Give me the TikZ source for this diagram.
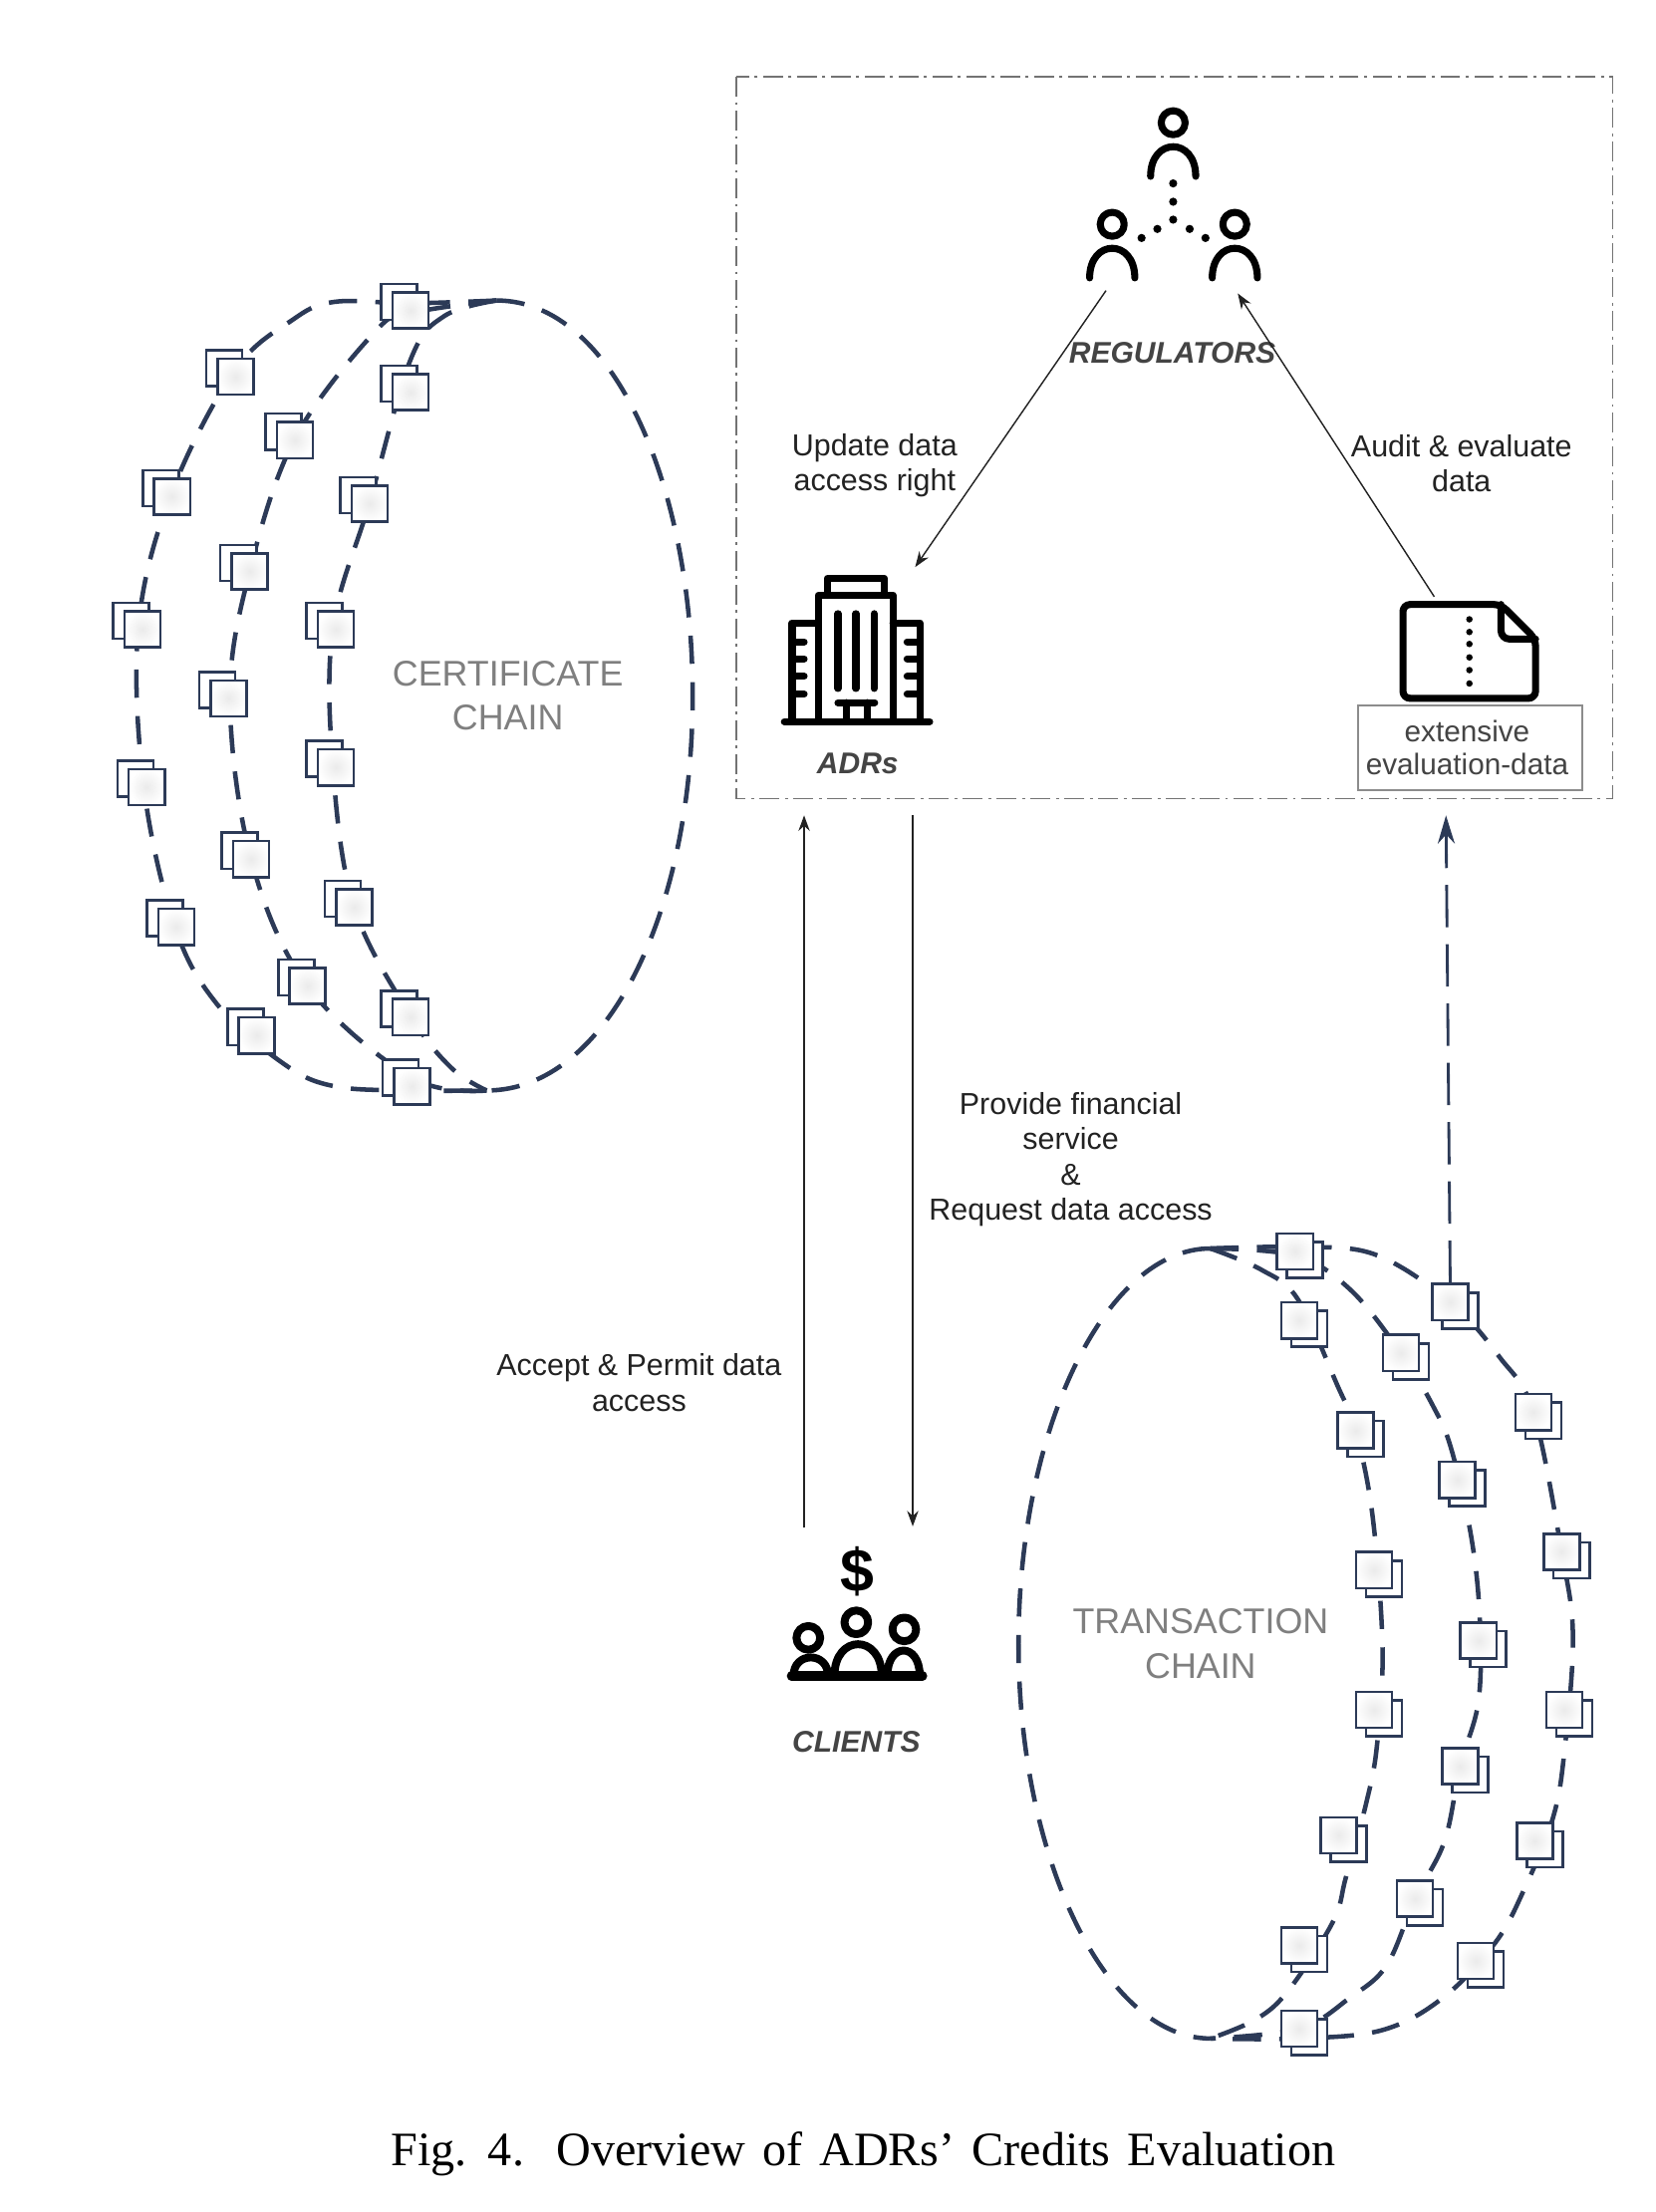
\documentclass[tikz,border=0pt]{standalone}
\usepackage{fontspec}
\setmainfont{Liberation Sans}
\newfontfamily\capfont{Liberation Serif}
\usetikzlibrary{arrows.meta}
\definecolor{navy}{HTML}{2C3A57}
\definecolor{ink}{HTML}{222222}
\definecolor{darklab}{HTML}{444444}
\definecolor{chainlab}{HTML}{7F7F7F}
\tikzset{
  chainline/.style={navy,line width=3.2pt,dash pattern=on 20pt off 13pt},
  backbox/.style={draw=navy,line width=1.8pt,fill=white,minimum width=25.5pt,minimum height=25.5pt,inner sep=0pt},
  frontbox/.style={draw=navy,line width=1.8pt,minimum width=25.5pt,minimum height=25.5pt,inner sep=0pt,shading=radial,inner color=black!8,outer color=white},
  flow/.style={ink,line width=1pt,-{Stealth[length=11pt,width=8pt]}},
  uplink/.style={navy,line width=2pt,dash pattern=on 30pt off 12pt,-{Stealth[length=20pt,width=12pt]}},
  lab/.style={ink,align=center,inner sep=0pt,font=\fontsize{21.5}{25}\selectfont},
  actor/.style={darklab,inner sep=0pt,font=\fontsize{21.2}{25}\selectfont\bfseries\itshape},
  chainname/.style={chainlab,align=center,inner sep=0pt,font=\fontsize{25.3}{31.5}\selectfont},
  iconline/.style={black,line width=5pt,line cap=round,line join=round},
}
\newcommand{\blkL}[3]{\node[backbox] (#1b) at (#2-8,#3-6) {}; \node[frontbox] (#1) at (#2,#3) {};}
\newcommand{\blkR}[3]{\node[backbox] (#1b) at (#2+7,#3+6) {}; \node[frontbox] (#1) at (#2,#3) {};}
\newcommand{\persn}[2]{\draw[iconline] (#1,#2) circle[radius=8.5pt];
  \draw[iconline] (#1-16,#2+38) .. controls (#1-16,#2+10) and (#1+16,#2+10) .. (#1+16,#2+38);}
\begin{document}
\begin{tikzpicture}[x=1pt,y=-1pt]
\useasboundingbox (0,0) rectangle (1173.8,1568);
\fill[white] (0,0) rectangle (1173.8,1568);

% group frame
\draw[black!55,line width=1pt,dash pattern=on 14pt off 4pt on 2pt off 4pt] (522,54.5) rectangle (1143,566);

% certificate chain
\draw[chainline] (352,213) .. controls (435,213) and (491,345) .. (491,493) .. controls (491,647) and (430,773) .. (345,773);
\draw[chainline] plot[smooth,tension=.6] coordinates {(352,213) (291,215) (237,214) (207,227) (166,263) (121,351) (98,445) (102,558) (124,657) (154,712) (201,754) (237,770) (292,773) (345,773)};
\draw[chainline] plot[smooth,tension=.6] coordinates {(352,213) (291,222) (265,236) (209,311) (177,405) (163,495) (178,609) (218,699) (292,764) (345,773)};
\draw[chainline] plot[smooth,tension=.6] coordinates {(352,213) (315,224) (291,255) (262,356) (236,445) (236,544) (251,643) (291,720) (320,757) (345,773)};
\blkL{c1}{291}{220} \blkL{c2}{167}{267} \blkL{c3}{122}{352} \blkL{c4}{101}{446}
\blkL{c5}{104}{558} \blkL{c6}{125}{657} \blkL{c7}{182}{734} \blkL{c8}{292}{770}
\blkL{c9}{209}{312} \blkL{c10}{177}{405} \blkL{c11}{162}{495} \blkL{c12}{178}{609} \blkL{c13}{218}{699}
\blkL{c14}{291}{278} \blkL{c15}{262}{357} \blkL{c16}{238}{446} \blkL{c17}{238}{544} \blkL{c18}{251}{643} \blkL{c19}{291}{721}
\node[chainname] (certname) at (360,493) {CERTIFICATE\\CHAIN};

% transaction chain
\draw[chainline] (858,885) .. controls (785,885) and (722,1010) .. (722,1165) .. controls (722,1320) and (785,1445) .. (858,1445);
\draw[chainline] plot[smooth,tension=.6] coordinates {(858,885) (918,884) (974,889) (1028,923) (1063,962) (1087,1001) (1107,1100) (1115,1160) (1109,1241) (1101,1288) (1081,1338) (1060,1377) (1023,1416) (980,1439) (921,1445) (858,1445)};
\draw[chainline] plot[smooth,tension=.6] coordinates {(858,885) (918,890) (957,914) (993,959) (1016,997) (1029,1028) (1043,1090) (1049,1148) (1048,1206) (1035,1252) (1024,1305) (1003,1346) (983,1393) (957,1416) (921,1438) (858,1445)};
\draw[chainline] plot[smooth,tension=.6] coordinates {(858,885) (894,900) (920,921) (948,982) (961,1014) (973,1075) (980,1168) (976,1238) (968,1280) (954,1331) (945,1362) (914,1410) (891,1431) (858,1445)};
\blkR{t1}{918}{887} \blkR{t2}{1028}{923} \blkR{t3}{1087}{1001} \blkR{t4}{1107}{1100}
\blkR{t5}{1109}{1212} \blkR{t6}{1088}{1305} \blkR{t7}{1046}{1390} \blkR{t8}{921}{1438}
\blkR{t9}{993}{959} \blkR{t10}{1033}{1049} \blkR{t11}{1048}{1163} \blkR{t12}{1035}{1252} \blkR{t13}{1003}{1346}
\blkR{t14}{921}{936} \blkR{t15}{961}{1014} \blkR{t16}{974}{1113} \blkR{t17}{974}{1212} \blkR{t18}{949}{1301} \blkR{t19}{921}{1379}
\node[chainname] (txname) at (851,1165) {TRANSACTION\\CHAIN};

% regulators icon
\persn{831.6}{87}
\persn{788.4}{159}
\persn{875.3}{159}
\foreach \px/\py in {831.6/130,831.6/143,831.6/155.7,820.4/162.3,809.2/168.7,843.3/162.3,854.5/168.7}
  \fill[black] (\px,\py) circle[radius=2.9pt];
\node[actor] (reg) at (831,250) {REGULATORS};

% ADRs icon
\begin{scope}[black,line width=5pt,line cap=round,line join=round]
  \draw (556,511.5) -- (659,511.5);
  \draw (580,511.5) -- (580,422) -- (633,422) -- (633,511.5);
  \draw (586.5,422) -- (586.5,410) -- (627,410) -- (627,422);
  \draw (580,441.5) -- (561.5,441.5) -- (561.5,511.5);
  \draw (633,441.5) -- (652,441.5) -- (652,511.5);
  \foreach \wy in {455,467,479.5,492} {\draw (563,\wy) -- (570,\wy); \draw (643,\wy) -- (650,\wy);}
  \foreach \cx in {594,606.7,619.6} \draw (\cx,435) -- (\cx,488);
  \draw (594,498) -- (620,498);
  \draw (600,498) -- (600,511); \draw (614.6,498) -- (614.6,511);
\end{scope}
\node[actor] (adr) at (608,541) {ADRs};

% file icon
\draw[iconline,rounded corners=5pt] (1064,428.5) -- (994.5,428.5) -- (994.5,495) -- (1088.5,495) -- (1088.5,453) -- cycle;
\draw[iconline,rounded corners=6pt] (1064,428.5) -- (1064,453) -- (1088.5,453);
\foreach \dy in {439,448,456.5,466,475,484.5} \fill[black] (1041.6,\dy) circle[radius=2.3pt];
\node[draw=black!45,line width=1pt,minimum width=159pt,minimum height=60pt,inner sep=0pt] (evdbox) at (1042.2,530) {};
\node[inner sep=0pt,align=center,text=darklab,font=\fontsize{21}{23.5}\selectfont] (evd) at (1040,530) {extensive\\evaluation-data};

% clients icon
\begin{scope}[black,line width=5.6pt,line cap=round,line join=round]
  \draw (607,1150) circle[radius=8.4pt];
  \draw (573,1161) circle[radius=8.4pt];
  \draw (641,1155) circle[radius=8.4pt];
  \draw (591.5,1188) .. controls (591.5,1158) and (625,1158) .. (625,1188);
  \draw (562.5,1188) .. controls (562.5,1170.5) and (587,1170.5) .. (587,1188);
  \draw (629,1188) .. controls (629,1164) and (652,1164) .. (652,1188);
  \draw[line width=6.5pt] (561,1188) -- (654,1188);
\end{scope}
\node[inner sep=0pt,black,font=\fontsize{43}{45}\selectfont\bfseries] (dollar) at (607.5,1114) {\$};
\node[actor] (clients) at (607,1235) {CLIENTS};

% connector end points
\coordinate (regL) at (784,206);
\coordinate (adrT) at (648.7,402);
\coordinate (regR) at (877.4,208);
\coordinate (evdT) at (1016.7,423);
\coordinate (frameA) at (570,578);
\coordinate (frameB) at (647,578);
\coordinate (cliA) at (570,1083);
\coordinate (cliB) at (647,1082);
\coordinate (frameC) at (1025,578);

\draw[flow] (regL) -- (adrT);
\draw[flow] (evdT) -- (regR);
\draw[flow] (cliA) -- (frameA);
\draw[flow] (frameB) -- (cliB);
\draw[uplink] (t2.north) -- (frameC);

% labels
\node[lab] (l1) at (620,330) {Update data\\access right};
\node[lab] (l2) at (1036,328.5) {Audit \& evaluate\\data};
\node[lab] (l3) at (453,980) {Accept \& Permit data\\access};
\node[lab] (l4) at (759,822) {Provide financial\\service\\\&\\Request data access};

% caption
\node[inner sep=0pt,black,font=\capfont\fontsize{34}{38}\selectfont] (cap) at (612,1526.5) {\spaceskip=12pt Fig. 4.\hspace{8pt} Overview of ADRs’ Credits Evaluation};
\end{tikzpicture}
\end{document}
